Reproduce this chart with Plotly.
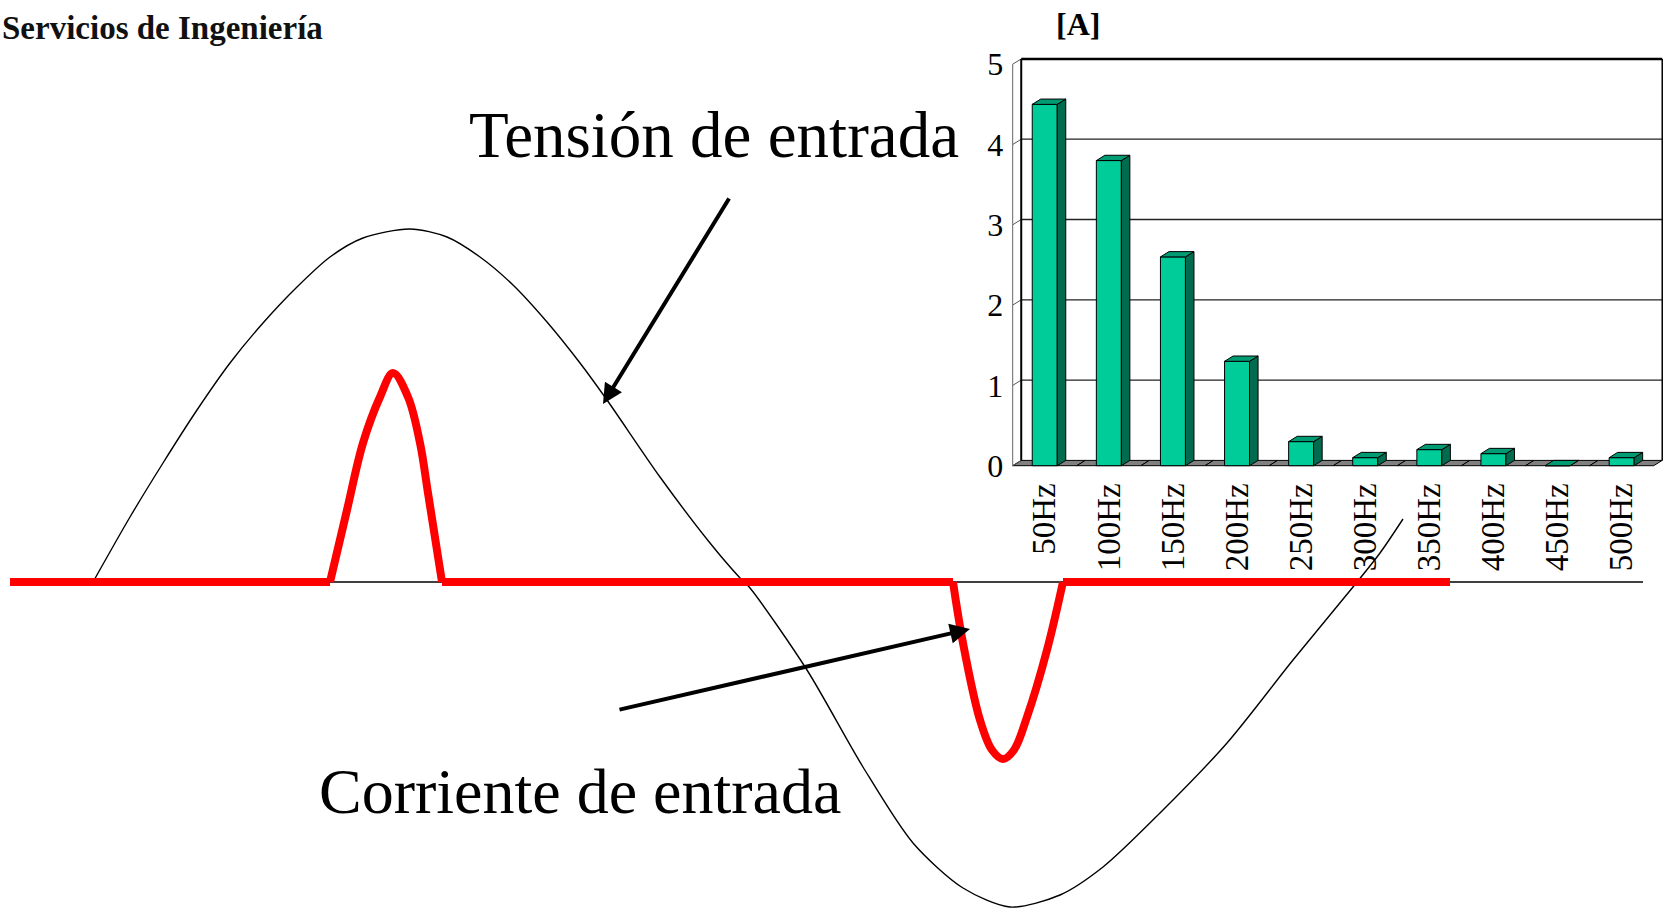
import plotly.graph_objects as go

# ---------------- data ----------------
# harmonic spectrum of the input current
freq_labels = ["50Hz", "100Hz", "150Hz", "200Hz", "250Hz",
               "300Hz", "350Hz", "400Hz", "450Hz", "500Hz"]
amps = [4.5, 3.8, 2.6, 1.3, 0.3, 0.1, 0.2, 0.15, 0.0, 0.1]
amp_ticks = [0, 1, 2, 3, 4, 5]

# input voltage waveform (time, value)
volt_t = [93, 130, 163, 197, 230, 263, 297, 330, 363, 410, 447, 480, 513,
          547, 580, 607, 660, 710, 740, 750, 807, 863, 913, 963, 1010,
          1060, 1103, 1160, 1227, 1293, 1353, 1380, 1403]
volt_v = [0, 65, 119, 172, 219, 259, 295, 325, 344, 353, 345, 325, 297,
          260, 219, 182, 105, 39, 4, -6, -88, -185, -261, -306, -325,
          -313, -285, -231, -161, -78, -5, 29, 63]

# input current waveform: flat segments + two pulses
current_start, current_end = 10, 1450
pulse_pos_t = [330, 347, 363, 380, 393, 408, 420, 428, 442]
pulse_pos_v = [0, 72, 139, 185, 209, 185, 139, 89, 0]
pulse_neg_t = [953, 963, 980, 992, 1003, 1014, 1027, 1047, 1063]
pulse_neg_v = [0, -61, -138, -168, -177, -168, -135, -68, 0]

# zero reference line
baseline_t = [10, 1643]
baseline_v = [0, 0]

# ---------------- style ----------------
W, H = 1668, 909
SERIF = "Liberation Serif, Times New Roman, serif"
FRONT = "#00CC99"
SIDE = "#006B4F"
TOP = "#009B73"
FLOOR = "#808080"

BW = 0.39      # bar width (category units)
DX = 0.133     # 3D depth offset (category units)
DY = 0.066     # 3D depth offset (value units)

# pixel mapping of inset chart
X_UNIT, X0_PX = 64.1, 1012.7     # px per category, px of x=-0.5
Y_UNIT, Y0_PX = 80.3, 465.7      # px per amp, px of y=0
PADL, PADR, PADB, PADT = 0.1, 0.05, 0.1, 0.1
x2_range = [-0.5 - PADL, 9.5 + DX + PADR]
y2_range = [0 - PADB, 5 + DY + PADT]
x2_dom = [(X0_PX - PADL * X_UNIT) / W,
          (X0_PX + (x2_range[1] + 0.5) * X_UNIT) / W]
y2_dom = [1 - (Y0_PX + PADB * Y_UNIT) / H,
          1 - (Y0_PX - y2_range[1] * Y_UNIT) / H]

ZERO_PX = 582                   # px of the waveform zero line
main_x_range = [0, W]
main_y_range = [ZERO_PX - H, ZERO_PX]

fig = go.Figure()

# ---------------- main waveforms ----------------
fig.add_trace(go.Scatter(x=baseline_t, y=baseline_v, mode="lines",
                         line=dict(color="black", width=1.5),
                         hoverinfo="skip", showlegend=False))
fig.add_trace(go.Scatter(x=volt_t, y=volt_v, mode="lines",
                         line=dict(color="black", width=1.4, shape="spline", smoothing=0.8),
                         hoverinfo="skip", showlegend=False))

flat_x = [current_start, pulse_pos_t[0], None,
          pulse_pos_t[-1], pulse_neg_t[0], None,
          pulse_neg_t[-1], current_end]
flat_y = [0, 0, None, 0, 0, None, 0, 0]
fig.add_trace(go.Scatter(x=flat_x, y=flat_y, mode="lines",
                         line=dict(color="#FF0000", width=8),
                         hoverinfo="skip", showlegend=False))
fig.add_trace(go.Scatter(x=pulse_pos_t + [None] + pulse_neg_t,
                         y=pulse_pos_v + [None] + pulse_neg_v,
                         mode="lines", connectgaps=False,
                         line=dict(color="#FF0000", width=8, shape="spline", smoothing=1.0),
                         hoverinfo="skip", showlegend=False))

# ---------------- inset 3D bar chart ----------------
xs = list(range(len(amps)))
fig.add_trace(go.Bar(x=xs, y=amps, width=BW, base=0,
                     marker=dict(color=FRONT, line=dict(color="black", width=1)),
                     xaxis="x2", yaxis="y2", hoverinfo="skip", showlegend=False))

side_x, side_y, top_x, top_y = [], [], [], []
for i, a in zip(xs, amps):
    r = i + BW / 2
    l = i - BW / 2
    side_x += [r, r + DX, r + DX, r, r, None]
    side_y += [0, DY, a + DY, a, 0, None]
    top_x += [l, r, r + DX, l + DX, l, None]
    top_y += [a, a, a + DY, a + DY, a, None]
fig.add_trace(go.Scatter(x=side_x, y=side_y, mode="lines", fill="toself",
                         fillcolor=SIDE, line=dict(color="black", width=1),
                         xaxis="x2", yaxis="y2", hoverinfo="skip", showlegend=False))
fig.add_trace(go.Scatter(x=top_x, y=top_y, mode="lines", fill="toself",
                         fillcolor=TOP, line=dict(color="black", width=1),
                         xaxis="x2", yaxis="y2", hoverinfo="skip", showlegend=False))

shapes = []
# floor tiles
for i in xs:
    shapes.append(dict(type="path", xref="x2", yref="y2", layer="below",
                       path=f"M {i-0.5},0 L {i+0.5},0 L {i+0.5+DX},{DY} L {i-0.5+DX},{DY} Z",
                       fillcolor=FLOOR, line=dict(color="black", width=1)))
# back-wall gridlines and left wall diagonals
for v in amp_ticks[1:]:
    top_line = v == amp_ticks[-1]
    shapes.append(dict(type="line", xref="x2", yref="y2", layer="below",
                       x0=-0.5 + DX, x1=9.5 + DX, y0=v + DY, y1=v + DY,
                       line=dict(color="black" if top_line else "#222222",
                                 width=2.5 if top_line else 1.3)))
for v in amp_ticks:
    shapes.append(dict(type="line", xref="x2", yref="y2", layer="below",
                       x0=-0.5, x1=-0.5 + DX, y0=v, y1=v + DY,
                       line=dict(color="#555555", width=1)))
# walls
shapes.append(dict(type="line", xref="x2", yref="y2", layer="below",
                   x0=-0.5, x1=-0.5, y0=0, y1=amp_ticks[-1],
                   line=dict(color="#666666", width=1)))
shapes.append(dict(type="line", xref="x2", yref="y2", layer="below",
                   x0=-0.5 + DX, x1=-0.5 + DX, y0=DY, y1=amp_ticks[-1] + DY,
                   line=dict(color="black", width=2)))
shapes.append(dict(type="line", xref="x2", yref="y2", layer="below",
                   x0=9.5 + DX, x1=9.5 + DX, y0=DY, y1=amp_ticks[-1] + DY,
                   line=dict(color="black", width=1.5)))

# ---------------- texts and arrows ----------------
ann = [
    dict(x=467, y=447, xref="x", yref="y", text="Tensión de entrada",
         showarrow=False, xanchor="left", yanchor="middle",
         font=dict(family=SERIF, size=65, color="black")),
    dict(x=317, y=-209, xref="x", yref="y", text="Corriente de entrada",
         showarrow=False, xanchor="left", yanchor="middle",
         font=dict(family=SERIF, size=64, color="black")),
    dict(x=0, y=554, xref="paper", yref="y",
         text="<b>Servicios de Ingeniería</b>",
         showarrow=False, xanchor="left", yanchor="middle",
         font=dict(family=SERIF, size=33, color="#111111")),
    dict(x=1078, y=558, xref="x", yref="y", text="<b>[A]</b>",
         showarrow=False, xanchor="center", yanchor="middle",
         font=dict(family=SERIF, size=32, color="black")),
    dict(x=603, y=178, ax=730, ay=385, xref="x", yref="y", axref="x", ayref="y",
         text="", showarrow=True, arrowhead=2, arrowsize=1.0, arrowwidth=4,
         arrowcolor="black"),
    dict(x=970, y=-47, ax=618, ay=-128, xref="x", yref="y", axref="x", ayref="y",
         text="", showarrow=True, arrowhead=2, arrowsize=1.0, arrowwidth=4,
         arrowcolor="black"),
]

fig.update_layout(
    width=W, height=H, autosize=False,
    margin=dict(l=0, r=0, t=0, b=0, pad=0, autoexpand=False),
    paper_bgcolor="white", plot_bgcolor="rgba(0,0,0,0)",
    showlegend=False,
    xaxis=dict(domain=[0, 1], range=main_x_range, visible=False, fixedrange=True,
               automargin=False),
    yaxis=dict(domain=[0, 1], range=main_y_range, visible=False, fixedrange=True,
               automargin=False),
    xaxis2=dict(domain=x2_dom, range=x2_range, anchor="y2", automargin=False,
                showgrid=False, zeroline=False, showline=False,
                tickmode="array", tickvals=xs, ticktext=freq_labels,
                tickangle=-90, ticks="", ticklabelstandoff=2,
                tickfont=dict(family=SERIF, size=33, color="black")),
    yaxis2=dict(domain=y2_dom, range=y2_range, anchor="x2", automargin=False,
                showgrid=False, zeroline=False, showline=False,
                tickmode="array", tickvals=amp_ticks, ticks="",
                ticklabelstandoff=2,
                tickfont=dict(family=SERIF, size=32, color="black")),
    shapes=shapes,
    annotations=ann,
    bargap=0,
)

# remove the default page margin so the figure fills the window exactly
fig.write_html("out.html",
               config={"displayModeBar": False, "staticPlot": True},
               post_script="document.body.style.margin='0';"
                           "document.body.style.overflow='hidden';")
